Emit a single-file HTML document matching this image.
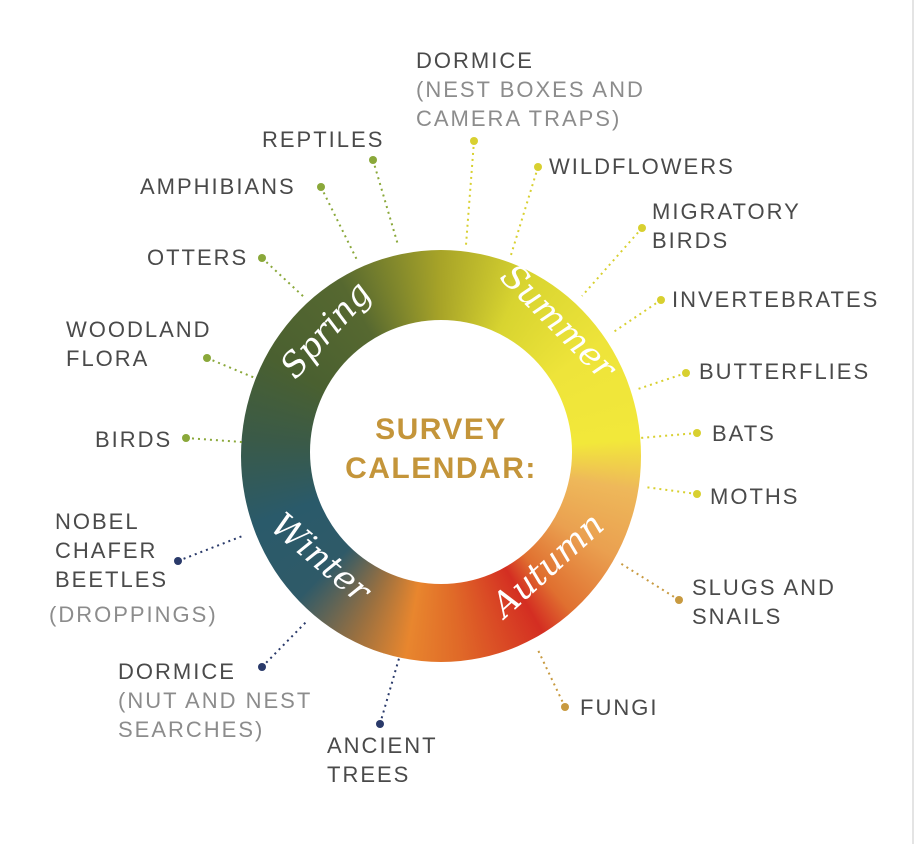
<!DOCTYPE html>
<html><head><meta charset="utf-8"><style>
html,body{margin:0;padding:0;background:#fff;}
#w{position:relative;width:918px;height:844px;overflow:hidden;background:#fff;font-family:"Liberation Sans",sans-serif;}
#ring{position:absolute;left:241px;top:250px;width:400px;height:412px;border-radius:50%;
background:conic-gradient(from 0deg,#a8a428 0deg,#d8d430 25deg,#eee43a 55deg,#f2e83a 85deg,#eeb85a 100deg,#eaa050 120deg,#e07030 140deg,#d42e22 150deg,#e06a28 175deg,#e8862e 190deg,#9a7040 205deg,#2f5a68 225deg,#2a5a6a 250deg,#3a5a48 275deg,#4a6030 300deg,#566830 330deg,#a8a428 360deg);}
#hole{position:absolute;left:310px;top:320px;width:262px;height:264px;border-radius:50%;background:#fff;}
.t{position:absolute;font-size:22px;letter-spacing:2px;color:#4a4a4a;line-height:29px;white-space:nowrap;}
.g{color:#8c8c8c;}
.c{position:absolute;left:0;width:882px;text-align:center;color:#c4953a;font-weight:bold;font-size:30px;letter-spacing:1.5px;}
.s{position:absolute;color:#fff;font-family:"DejaVu Serif",serif;font-style:italic;font-size:34px;white-space:nowrap;transform-origin:center;}
</style></head><body><div id="w">
<div id="ring"></div>
<div id="hole"></div>
<svg width="918" height="844" style="position:absolute;left:0;top:0">
<g stroke-width="2" stroke-dasharray="2 4" fill="none">
<line x1="474" y1="141" x2="466" y2="245" stroke="#d8d030"/>
<line x1="373" y1="160" x2="398" y2="245" stroke="#8aa83a"/>
<line x1="321" y1="187" x2="358" y2="262" stroke="#8aa83a"/>
<line x1="262" y1="258" x2="305" y2="298" stroke="#8aa83a"/>
<line x1="207" y1="358" x2="255" y2="378" stroke="#8aa83a"/>
<line x1="186" y1="438" x2="242" y2="442" stroke="#8aa83a"/>
<line x1="178" y1="561" x2="245" y2="535" stroke="#2a3a6a"/>
<line x1="262" y1="667" x2="308" y2="620" stroke="#2a3a6a"/>
<line x1="380" y1="724" x2="400" y2="655" stroke="#2a3a6a"/>
<line x1="565" y1="707" x2="537" y2="648" stroke="#c89a40"/>
<line x1="679" y1="600" x2="620" y2="563" stroke="#c89a40"/>
<line x1="697" y1="494" x2="645" y2="487" stroke="#d8d030"/>
<line x1="697" y1="433" x2="640" y2="438" stroke="#d8d030"/>
<line x1="686" y1="373" x2="635" y2="390" stroke="#d8d030"/>
<line x1="661" y1="300" x2="612" y2="333" stroke="#d8d030"/>
<line x1="642" y1="228" x2="582" y2="296" stroke="#d8d030"/>
<line x1="538" y1="167" x2="511" y2="255" stroke="#d8d030"/>
</g>
<g>
<circle cx="474" cy="141" r="4" fill="#d8d030"/>
<circle cx="373" cy="160" r="4" fill="#8aa83a"/>
<circle cx="321" cy="187" r="4" fill="#8aa83a"/>
<circle cx="262" cy="258" r="4" fill="#8aa83a"/>
<circle cx="207" cy="358" r="4" fill="#8aa83a"/>
<circle cx="186" cy="438" r="4" fill="#8aa83a"/>
<circle cx="178" cy="561" r="4" fill="#2a3a6a"/>
<circle cx="262" cy="667" r="4" fill="#2a3a6a"/>
<circle cx="380" cy="724" r="4" fill="#2a3a6a"/>
<circle cx="565" cy="707" r="4" fill="#c89a40"/>
<circle cx="679" cy="600" r="4" fill="#c89a40"/>
<circle cx="697" cy="494" r="4" fill="#d8d030"/>
<circle cx="697" cy="433" r="4" fill="#d8d030"/>
<circle cx="686" cy="373" r="4" fill="#d8d030"/>
<circle cx="661" cy="300" r="4" fill="#d8d030"/>
<circle cx="642" cy="228" r="4" fill="#d8d030"/>
<circle cx="538" cy="167" r="4" fill="#d8d030"/>
</g>
<line x1="913" y1="0" x2="913" y2="844" stroke="#e4e4e4" stroke-width="2"/>
</svg>
<div class="c" style="top:413px">SURVEY</div>
<div class="c" style="top:452px">CALENDAR:</div>
<div class="s" style="left:268px;top:310px;transform:rotate(-48deg)">Spring</div>
<div class="s" style="left:485px;top:302px;transform:rotate(45deg)">Summer</div>
<div class="s" style="left:480px;top:545px;transform:rotate(-42deg)">Autumn</div>
<div class="s" style="left:262px;top:538px;transform:rotate(40deg)">Winter</div>
<div class="t" style="left:416px;top:46px">DORMICE<br><span class="g">(NEST BOXES AND<br>CAMERA TRAPS)</span></div>
<div class="t" style="left:262px;top:125px">REPTILES</div>
<div class="t" style="left:140px;top:172px">AMPHIBIANS</div>
<div class="t" style="left:147px;top:243px">OTTERS</div>
<div class="t" style="left:66px;top:315px">WOODLAND<br>FLORA</div>
<div class="t" style="left:95px;top:425px">BIRDS</div>
<div class="t" style="left:55px;top:507px">NOBEL<br>CHAFER<br>BEETLES</div>
<div class="t g" style="left:49px;top:600px">(DROPPINGS)</div>
<div class="t" style="left:118px;top:657px">DORMICE<br><span class="g">(NUT AND NEST<br>SEARCHES)</span></div>
<div class="t" style="left:327px;top:731px">ANCIENT<br>TREES</div>
<div class="t" style="left:580px;top:693px">FUNGI</div>
<div class="t" style="left:692px;top:573px">SLUGS AND<br>SNAILS</div>
<div class="t" style="left:710px;top:482px">MOTHS</div>
<div class="t" style="left:712px;top:419px">BATS</div>
<div class="t" style="left:699px;top:357px">BUTTERFLIES</div>
<div class="t" style="left:672px;top:285px">INVERTEBRATES</div>
<div class="t" style="left:652px;top:197px">MIGRATORY<br>BIRDS</div>
<div class="t" style="left:549px;top:152px">WILDFLOWERS</div>
</div></body></html>
